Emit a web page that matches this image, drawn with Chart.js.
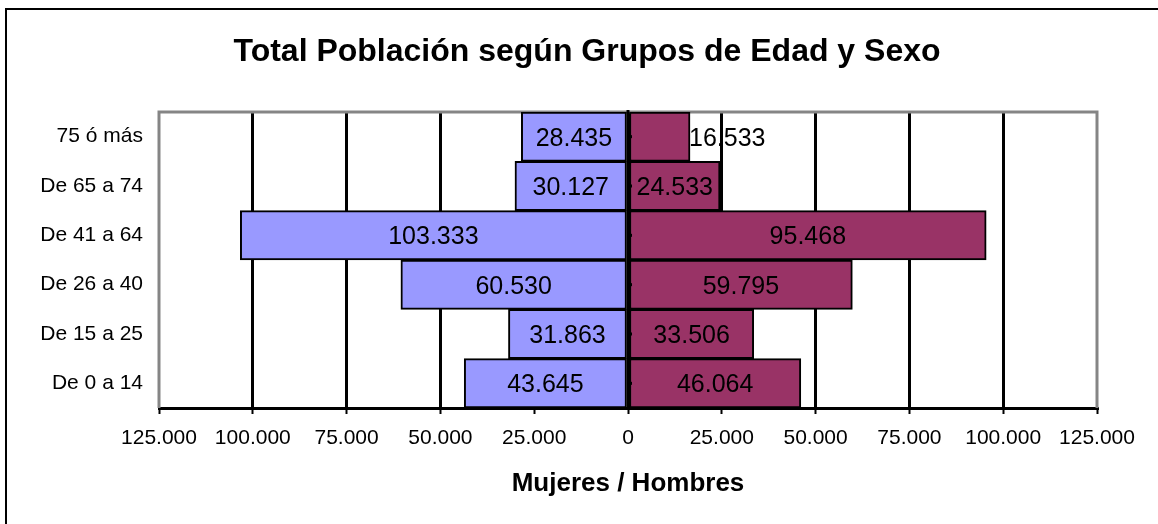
<!DOCTYPE html>
<html>
<head>
<meta charset="utf-8">
<script src="https://cdn.jsdelivr.net/npm/chart.js@4"></script>
<style>
  html, body { margin: 0; padding: 0; background: #fff; }
  #wrap { width: 1158px; height: 524px; }
</style>
</head>
<body>
<div id="wrap"><canvas id="pyramid" width="1158" height="524"></canvas></div>
<script>
// Data
const grupos = ['75 ó más', 'De 65 a 74', 'De 41 a 64', 'De 26 a 40', 'De 15 a 25', 'De 0 a 14'];
const mujeres = [28435, 30127, 103333, 60530, 31863, 43645];
const hombres = [16533, 24533, 95468, 59795, 33506, 46064];
const xTickValues = [-125000, -100000, -75000, -50000, -25000, 0, 25000, 50000, 75000, 100000, 125000];
const titulo = 'Total Población según Grupos de Edad y Sexo';

const FONT = "'Liberation Sans', Arial, Helvetica, sans-serif";
Chart.defaults.font.family = FONT;
Chart.defaults.color = '#000';

// 12345 -> "12.345"
function fmt(v) {
    return String(Math.abs(v)).replace(/\B(?=(\d{3})+(?!\d))/g, '.');
}

// Outer frame, title, plot border, zero axis, small category ticks and value labels
const decor = {
    id: 'decor',
    beforeDraw(chart) {
        const c = chart.ctx;
        c.save();
        c.fillStyle = '#fff';
        c.fillRect(0, 0, chart.width, chart.height);
        c.strokeStyle = '#000';
        c.lineWidth = 2;
        c.beginPath();
        c.moveTo(6, chart.height + 2);
        c.lineTo(6, 9);
        c.lineTo(chart.width + 2, 9);
        c.stroke();

        c.font = 'bold 32px ' + FONT;
        c.fillStyle = '#000';
        c.textAlign = 'center';
        c.textBaseline = 'middle';
        c.fillText(titulo, 587, 52);
        c.restore();
    },
    beforeDatasetsDraw(chart) {
        const a = chart.chartArea;
        const c = chart.ctx;
        c.save();
        c.strokeStyle = '#858585';
        c.lineWidth = 3;
        c.beginPath();
        c.moveTo(a.left, a.bottom);
        c.lineTo(a.left, a.top);
        c.lineTo(a.right, a.top);
        c.lineTo(a.right, a.bottom);
        c.stroke();
        c.restore();
    },
    afterDatasetsDraw(chart) {
        const c = chart.ctx;
        const a = chart.chartArea;
        const xs = chart.scales.x;
        const ys = chart.scales.y;
        const x0 = xs.getPixelForValue(0);

        c.save();
        // zero axis
        c.strokeStyle = '#000';
        c.lineWidth = 3;
        c.beginPath();
        c.moveTo(x0, a.top - 2);
        c.lineTo(x0, a.bottom);
        c.stroke();
        // small category ticks
        grupos.forEach((g, i) => {
            const y = ys.getPixelForTick(i);
            c.beginPath();
            c.moveTo(x0, y);
            c.lineTo(x0 + 4, y);
            c.stroke();
        });

        // value labels
        c.font = '25px ' + FONT;
        c.fillStyle = '#000';
        c.textBaseline = 'middle';
        chart.data.datasets.forEach((ds, di) => {
            const meta = chart.getDatasetMeta(di);
            meta.data.forEach((bar, i) => {
                const txt = fmt(ds.data[i]);
                const w = c.measureText(txt).width;
                const len = Math.abs(bar.x - bar.base);
                if (w + 6 < len) {
                    c.textAlign = 'center';
                    c.fillText(txt, (bar.x + bar.base) / 2, bar.y + 2);
                } else if (bar.x >= bar.base) {
                    c.textAlign = 'left';
                    c.fillText(txt, bar.x - 1, bar.y + 2);
                } else {
                    c.textAlign = 'right';
                    c.fillText(txt, bar.x + 1, bar.y + 2);
                }
            });
        });
        c.restore();
    }
};

new Chart(document.getElementById('pyramid'), {
    type: 'bar',
    data: {
        labels: grupos,
        datasets: [
            {
                label: 'Mujeres',
                data: mujeres.map(v => -v),
                backgroundColor: '#9999FF',
                borderColor: '#000',
                borderWidth: 2,
                borderSkipped: false,
                categoryPercentage: 1,
                barPercentage: 1
            },
            {
                label: 'Hombres',
                data: hombres,
                backgroundColor: '#993366',
                borderColor: '#000',
                borderWidth: 2,
                borderSkipped: false,
                categoryPercentage: 1,
                barPercentage: 1
            }
        ]
    },
    options: {
        indexAxis: 'y',
        responsive: false,
        animation: false,
        devicePixelRatio: 1,
        layout: { padding: { left: 0, right: 61, top: 112, bottom: 0 } },
        plugins: {
            legend: { display: false },
            tooltip: { enabled: false },
            title: { display: false }
        },
        scales: {
            x: {
                stacked: true,
                min: -125000,
                max: 125000,
                afterBuildTicks(scale) {
                    scale.ticks = xTickValues.map(v => ({ value: v }));
                },
                afterFit(scale) { scale.height = 116; },
                ticks: {
                    autoSkip: false,
                    maxRotation: 0,
                    padding: 12,
                    font: { size: 21 },
                    color: '#000',
                    callback: v => fmt(v)
                },
                grid: {
                    color: ctx => (ctx.tick && Math.abs(ctx.tick.value) === 125000) ? 'rgba(0,0,0,0)' : '#000',
                    lineWidth: 3,
                    drawTicks: true,
                    tickLength: 6,
                    tickColor: '#000',
                    tickWidth: 2
                },
                border: { display: true, color: '#000', width: 3 },
                title: {
                    display: true,
                    text: 'Mujeres / Hombres',
                    color: '#000',
                    font: { size: 26, weight: 'bold' },
                    padding: { top: 0, bottom: 25 }
                }
            },
            y: {
                stacked: true,
                afterFit(scale) { scale.width = 159; },
                ticks: {
                    padding: 16,
                    font: { size: 21 },
                    color: '#000'
                },
                grid: { display: false, drawTicks: false },
                border: { display: false }
            }
        }
    },
    plugins: [decor]
});
</script>
</body>
</html>
